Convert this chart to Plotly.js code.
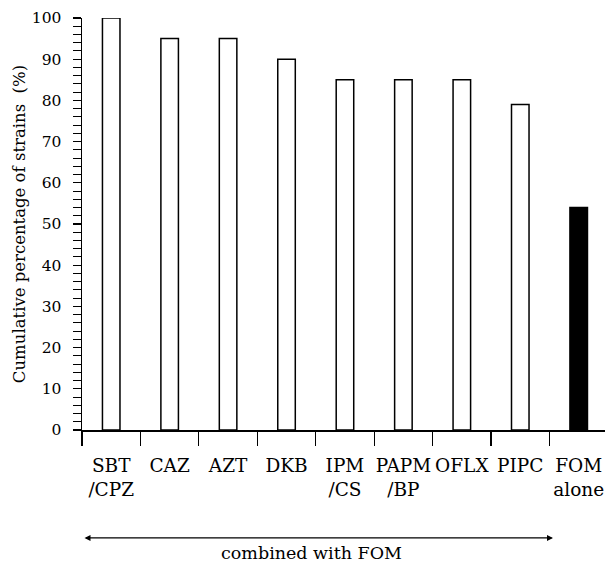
<!DOCTYPE html>
<html>
<head>
<meta charset="utf-8">
<script src="https://cdn.plot.ly/plotly-3.0.1.min.js"></script>
<style>html,body{margin:0;padding:0;background:#fff;}#chart{width:605px;height:562px;}</style>
</head>
<body>
<div id="chart"></div>
<script>
// Data
const categories = ["SBT<br>/CPZ", "CAZ", "AZT", "DKB", "IPM<br>/CS", "PAPM<br>/BP", "OFLX", "PIPC", "FOM<br>alone"];
const values = [100, 95, 95, 90, 85, 85, 85, 79, 54];
const barColors = ["#ffffff", "#ffffff", "#ffffff", "#ffffff", "#ffffff", "#ffffff", "#ffffff", "#ffffff", "#000000"];
const yTitle = "Cumulative percentage of strains&nbsp;&nbsp;(%)";
const noteText = "combined with FOM";

const serif = "DejaVu Serif";

const trace = {
  type: "bar",
  x: categories,
  y: values,
  width: 0.3,
  marker: { color: barColors, line: { color: "#000", width: 1.5 } },
  cliponaxis: false,
  hoverinfo: "skip"
};

const layout = {
  width: 605,
  height: 562,
  margin: { l: 82, r: 0, t: 18, b: 132 },
  paper_bgcolor: "#fff",
  plot_bgcolor: "#fff",
  showlegend: false,
  font: { family: serif, color: "#000" },
  xaxis: {
    type: "category",
    range: [-0.5, 8.45],
    showline: true,
    linecolor: "#000",
    linewidth: 1.5,
    ticks: "outside",
    tickson: "boundaries",
    ticklen: 14,
    tickwidth: 1.2,
    tickcolor: "#000",
    tickangle: 0,
    ticklabelstandoff: 18,
    showgrid: false,
    zeroline: false,
    tickfont: { family: serif, size: 18.5, color: "#000" },
    fixedrange: true
  },
  yaxis: {
    range: [0, 100],
    dtick: 10,
    tick0: 0,
    showline: true,
    linecolor: "#000",
    linewidth: 1.5,
    ticks: "outside",
    ticklen: 8,
    tickwidth: 1.2,
    tickcolor: "#000",
    minor: { dtick: 2, ticks: "outside", ticklen: 8, tickwidth: 1, tickcolor: "#000", showgrid: false },
    showgrid: false,
    zeroline: false,
    tickfont: { family: serif, size: 15.5, color: "#000" },
    ticklabelstandoff: 8,
    title: { text: yTitle, font: { family: serif, size: 16.5, color: "#000" }, standoff: 2 },
    fixedrange: true
  },
  annotations: [
    {
      xref: "paper", yref: "paper", axref: "pixel", ayref: "pixel",
      x: 0.9006, y: -0.262, ax: -470, ay: 0,
      text: "", showarrow: true, arrowside: "end+start",
      arrowhead: 2, arrowsize: 1, arrowwidth: 1.2, arrowcolor: "#000", standoff: 0, startstandoff: 0
    },
    {
      xref: "paper", yref: "paper", x: 0.438, y: -0.2985,
      text: noteText, showarrow: false,
      xanchor: "center", yanchor: "middle",
      font: { family: serif, size: 17.5, color: "#000" }
    }
  ]
};

Plotly.newPlot("chart", [trace], layout, { displayModeBar: false, staticPlot: true });
</script>
</body>
</html>
